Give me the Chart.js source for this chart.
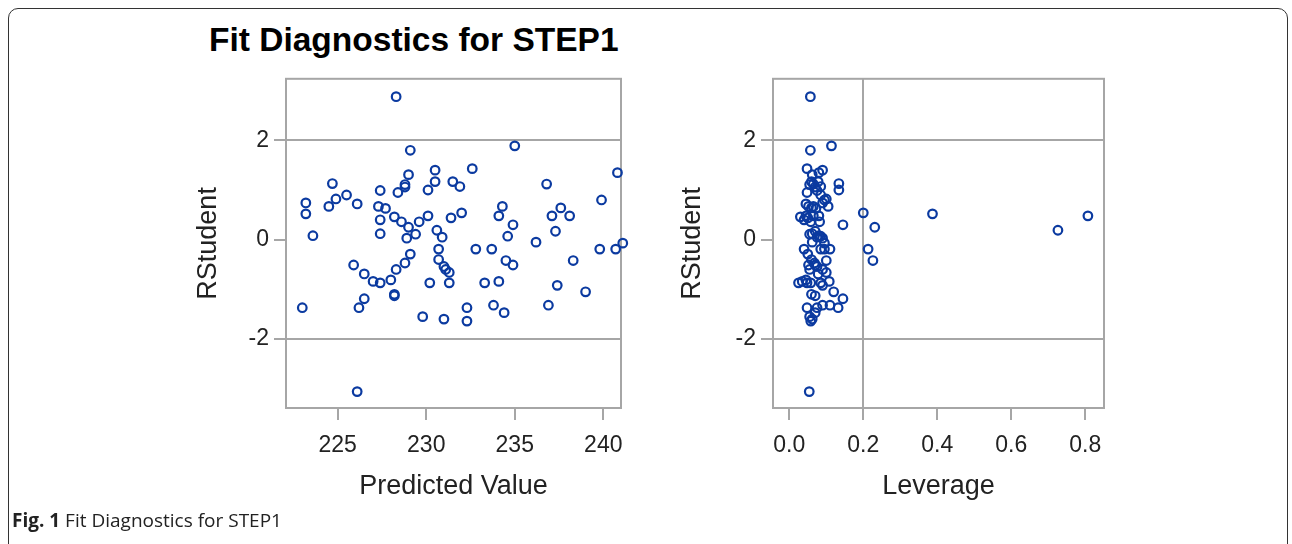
<!DOCTYPE html>
<html>
<head>
<meta charset="utf-8">
<script src="https://cdn.jsdelivr.net/npm/chart.js@4/dist/chart.umd.min.js"></script>
<style>
  body { margin: 0; background: #fff; width: 1292px; height: 544px; overflow: hidden; position: relative; }
  #box { position: absolute; left: 8px; top: 8px; width: 1278px; height: 580px; border: 1px solid #333; border-radius: 10px; }
  #title { position: absolute; left: 209px; top: 21px; font: bold 33.5px "Liberation Sans", Arial, sans-serif; color: #000; white-space: nowrap; }
  #caption { position: absolute; left: 12px; top: 507px; font: 19px "Open Sans", sans-serif; color: #222; white-space: nowrap; }
  canvas { position: absolute; }
  #predChart { left: 180px; top: 60px; }
  #levChart { left: 660px; top: 60px; }
</style>
</head>
<body>
<div id="box"></div>
<div id="title">Fit Diagnostics for STEP1</div>
<canvas id="predChart" width="460" height="450"></canvas>
<canvas id="levChart" width="460" height="450"></canvas>
<div id="caption"><b>Fig. 1</b> Fit Diagnostics for STEP1</div>
<script>
// one entry per observation (same order in all three arrays)
const predicted = [
  228.3, 229.1, 229.0, 228.8, 228.8, 228.4, 227.4, 224.7, 225.5, 224.9,
  224.5, 226.1, 223.2, 223.2, 223.6, 227.3, 227.7, 227.4, 227.4, 228.2,
  228.6, 229.0, 229.6, 230.1, 230.1, 230.5, 230.5, 231.5, 231.9, 231.4,
  230.6, 230.9, 228.9, 229.4, 235.0, 232.6, 236.8, 239.9, 240.8, 234.3,
  234.1, 232.0, 234.9, 234.6, 237.1, 237.6, 238.1, 237.3, 236.2, 241.1,
  230.7, 230.7, 231.0, 231.1, 231.3, 229.1, 228.8, 228.3, 228.0, 228.2,
  228.2, 227.4, 227.0, 226.5, 225.9, 226.5, 226.2, 223.0, 230.2, 229.8,
  231.0, 231.3, 226.1, 232.8, 233.7, 234.5, 234.9, 239.8, 240.7, 238.3,
  233.3, 234.1, 237.4, 239.0, 232.3, 232.3, 233.8, 234.4, 236.9
];
const rstudent = [
  2.88, 1.80, 1.31, 1.11, 1.06, 0.95, 0.99, 1.13, 0.90, 0.82,
  0.67, 0.72, 0.74, 0.52, 0.08, 0.67, 0.63, 0.40, 0.12, 0.46,
  0.36, 0.25, 0.36, 0.48, 1.00, 1.40, 1.17, 1.17, 1.07, 0.44,
  0.19, 0.05, 0.03, 0.11, 1.89, 1.43, 1.12, 0.80, 1.35, 0.67,
  0.48, 0.54, 0.30, 0.07, 0.48, 0.64, 0.48, 0.17, -0.05, -0.07,
  -0.19, -0.40, -0.54, -0.60, -0.66, -0.29, -0.47, -0.60, -0.81, -1.10,
  -1.13, -0.87, -0.84, -0.69, -0.51, -1.19, -1.37, -1.37, -0.87, -1.55,
  -1.60, -0.87, -3.06, -0.19, -0.19, -0.42, -0.51, -0.19, -0.19, -0.42,
  -0.87, -0.84, -0.92, -1.05, -1.37, -1.64, -1.32, -1.47, -1.32
];
const leverage = [
  0.057, 0.057, 0.062, 0.055, 0.070, 0.048, 0.075, 0.134, 0.085, 0.100,
  0.065, 0.045, 0.090, 0.387, 0.080, 0.052, 0.072, 0.040, 0.062, 0.030,
  0.058, 0.231, 0.082, 0.807, 0.134, 0.090, 0.078, 0.060, 0.085, 0.050,
  0.726, 0.075, 0.090, 0.055, 0.114, 0.048, 0.065, 0.095, 0.080, 0.105,
  0.065, 0.200, 0.145, 0.085, 0.080, 0.060, 0.045, 0.070, 0.062, 0.095,
  0.213, 0.060, 0.075, 0.090, 0.100, 0.050, 0.068, 0.055, 0.045, 0.060,
  0.070, 0.025, 0.035, 0.078, 0.052, 0.145, 0.048, 0.132, 0.048, 0.055,
  0.062, 0.058, 0.054, 0.085, 0.040, 0.226, 0.070, 0.095, 0.110, 0.100,
  0.085, 0.108, 0.090, 0.120, 0.075, 0.058, 0.090, 0.070, 0.110
];

const predTicks = [225, 230, 235, 240];
const levTicks = [0.0, 0.2, 0.4, 0.6, 0.8];
const rstudentTicks = [-2, 0, 2];
const rstudentRefs = [-2, 2];
const leverageRef = 0.2;

const markColor = '#0b3aa0';
const lineColor = '#a6a6a6';
const textColor = '#222';
const fontFamily = '"Liberation Sans", Arial, sans-serif';

// draws the box around the plot area
const framePlugin = {
  id: 'frame',
  beforeDatasetsDraw(chart) {
    const { ctx, chartArea } = chart;
    ctx.save();
    ctx.strokeStyle = lineColor;
    ctx.lineWidth = 2;
    ctx.strokeRect(chartArea.left, chartArea.top, chartArea.right - chartArea.left, chartArea.bottom - chartArea.top);
    ctx.restore();
  }
};

const makeChart = (id, xs, xTicks, xMin, xMax, xTitle, xRefs, xLabel, yAxisWidth, yTitlePad, padRight) => {
  const ctx = document.getElementById(id).getContext('2d');
  return new Chart(ctx, {
    type: 'scatter',
    data: {
      datasets: [
        {
          data: xs.map((x, i) => ({ x: x, y: rstudent[i] })),
          borderColor: markColor,
          backgroundColor: 'transparent',
          pointRadius: 4.3,
          pointBorderWidth: 2.2,
          pointHoverRadius: 4.3,
          clip: false
        }
      ]
    },
    options: {
      responsive: false,
      animation: false,
      devicePixelRatio: 1,
      events: [],
      layout: { padding: { top: 14, right: padRight, left: 0, bottom: 0 } },
      plugins: { legend: { display: false }, tooltip: { enabled: false } },
      scales: {
        x: {
          type: 'linear',
          min: xMin,
          max: xMax,
          afterBuildTicks: axis => { axis.ticks = xTicks.map(v => ({ value: v })); },
          afterFit: axis => { axis.height = 102; },
          border: { display: false },
          grid: {
            color: c => (c.tick && xRefs.includes(c.tick.value) ? lineColor : 'transparent'),
            lineWidth: 2,
            tickColor: lineColor,
            tickWidth: 2,
            tickLength: 12
          },
          ticks: {
            padding: 12,
            color: textColor,
            font: { family: fontFamily, size: 23 },
            callback: xLabel
          },
          title: {
            display: true,
            text: xTitle,
            color: textColor,
            font: { family: fontFamily, size: 27 },
            padding: { top: 0, bottom: 7 }
          }
        },
        y: {
          type: 'linear',
          min: -3.39,
          max: 3.24,
          afterBuildTicks: axis => { axis.ticks = rstudentTicks.map(v => ({ value: v })); },
          afterFit: axis => { axis.width = yAxisWidth; },
          border: { display: false },
          grid: {
            color: c => (c.tick && rstudentRefs.includes(c.tick.value) ? lineColor : 'transparent'),
            lineWidth: 2,
            tickColor: lineColor,
            tickWidth: 2,
            tickLength: 12
          },
          ticks: {
            padding: 5,
            color: textColor,
            font: { family: fontFamily, size: 23 },
            callback: v => String(v)
          },
          title: {
            display: true,
            text: 'RStudent',
            color: textColor,
            font: { family: fontFamily, size: 27 },
            padding: { top: yTitlePad, bottom: 0 }
          }
        }
      }
    },
    plugins: [framePlugin]
  });
};

makeChart('predChart', predicted, predTicks, 222.08, 241.0, 'Predicted Value', [], v => String(v), 106, 12, 19);
makeChart('levChart', leverage, levTicks, -0.044, 0.8505, 'Leverage', [leverageRef], v => v.toFixed(1), 113, 16, 16);
</script>
</body>
</html>
